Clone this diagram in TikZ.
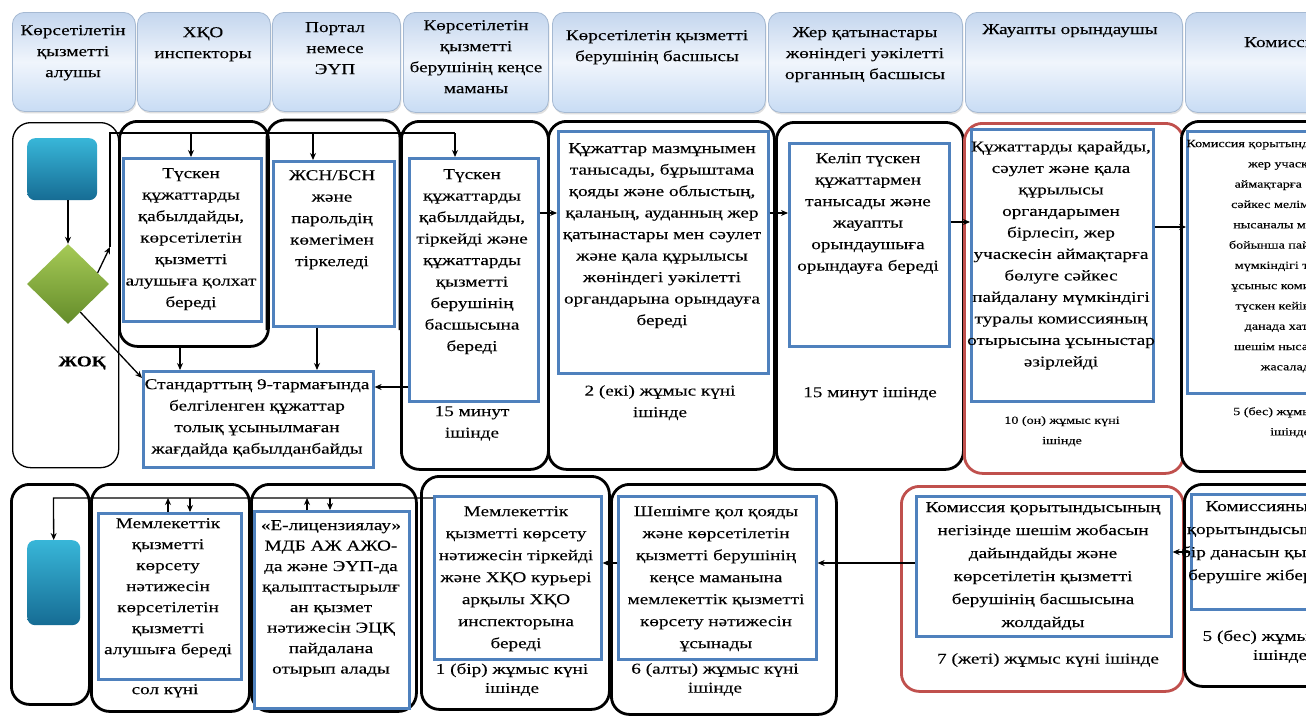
\documentclass[tikz,border=0pt]{standalone}
\usepackage{fontspec}
\setmainfont{Liberation Serif}[FakeStretch=1.28,FakeBold=0.08]
\usetikzlibrary{arrows.meta,shapes.geometric,calc,shadows}

\definecolor{boxblue}{RGB}{79,129,189}
\definecolor{lanered}{RGB}{192,80,77}
\definecolor{headtop}{RGB}{196,214,238}
\definecolor{headmid}{RGB}{240,245,252}
\definecolor{headbot}{RGB}{200,220,244}
\definecolor{headedge}{RGB}{165,185,210}
\definecolor{tealtop}{RGB}{56,182,216}
\definecolor{tealbot}{RGB}{22,108,148}
\definecolor{greentop}{RGB}{166,202,86}
\definecolor{greenbot}{RGB}{100,140,42}

\newcommand\txtbody{\fontsize{15}{21.5}\selectfont}
\newcommand\txthead{\fontsize{15}{21}\selectfont}
\newcommand\txtsmall{\fontsize{11}{20.3}\selectfont}

\begin{document}
\begin{tikzpicture}[x=1pt,y=-1pt,
  lane/.style={draw=black, line width=2.8pt, rounded corners=18pt, fill=white,
    anchor=north west, inner sep=0pt},
  thinlane/.style={lane, line width=1.3pt},
  redlane/.style={lane, draw=lanered},
  bluebox/.style={draw=boxblue, line width=2.6pt, fill=white, anchor=north west, inner sep=0pt},
  header/.style={draw=headedge, line width=0.8pt, rounded corners=12pt,
    top color=headtop, bottom color=headbot, middle color=headmid,
    anchor=north west, inner sep=0pt,
    drop shadow={shadow xshift=1pt, shadow yshift=-2pt, opacity=0.25}},
  terminal/.style={rounded corners=8pt, top color=tealtop, bottom color=tealbot,
    anchor=north west, inner sep=0pt},
  decision/.style={diamond, top color=greentop, bottom color=greenbot, inner sep=0pt,
    minimum width=82, minimum height=80, aspect=1.04},
  txt/.style={align=center, anchor=north, inner sep=0pt, font=\txtbody},
  htxt/.style={txt, font=\txthead},
  stxt/.style={txt, font=\txtsmall},
  flow/.style={line width=1.3pt, -{Stealth[length=7pt,width=6pt]}},
  link/.style={line width=1.3pt},
]
\useasboundingbox (0,0) rectangle (1306,715);
\clip (0,0) rectangle (1306,715);
\fill[white] (0,0) rectangle (1306,715);

% ---------- column headers ----------
\node[header, minimum width=123, minimum height=99]  (h1) at (12,12)   {};
\node[header, minimum width=133, minimum height=99]  (h2) at (137,12)  {};
\node[header, minimum width=128, minimum height=99]  (h3) at (272,12)  {};
\node[header, minimum width=145, minimum height=100] (h4) at (403,12)  {};
\node[header, minimum width=213, minimum height=100] (h5) at (552,12)  {};
\node[header, minimum width=194, minimum height=100] (h6) at (768,12)  {};
\node[header, minimum width=217, minimum height=100] (h7) at (965,12)  {};
\node[header, minimum width=160, minimum height=100] (h8) at (1185,12) {};

\node[htxt] (ht1) at (73,25)   {Көрсетілетін\\қызметті\\алушы};
\node[htxt] (ht2) at (203,27)  {ХҚО\\инспекторы};
\node[htxt] (ht3) at (335,22)  {Портал\\немесе\\ЭҮП};
\node[htxt] (ht4) at (476,20)  {Көрсетілетін\\қызметті\\берушінің кеңсе\\маманы};
\node[htxt] (ht5) at (657,30)  {Көрсетілетін қызметті\\берушінің басшысы};
\node[htxt] (ht6) at (865,27)  {Жер қатынастары\\жөніндегі уәкілетті\\органның басшысы};
\node[htxt] (ht7) at (1070,24) {Жауапты орындаушы};
\node[htxt] (ht8) at (1284,37) {Комиссия};

% ---------- first row: lanes ----------
\node[thinlane, minimum width=106, minimum height=345] (la1) at (12,122)  {};
\node[lane, minimum width=149, minimum height=225]     (lx1) at (118,120) {};
\draw[line width=2.8pt, rounded corners=18pt] (267,330) -- (267,120) -- (400,120) -- (400,330);
\node[lane, minimum width=147, minimum height=348]     (lk1) at (400,120) {};
\node[lane, minimum width=226, minimum height=348]     (lb1) at (547,120) {};
\node[lane, minimum width=187, minimum height=347]     (lj1) at (775,121) {};
\node[redlane, minimum width=219, minimum height=350]  (lr1) at (963,122) {};
\node[lane, minimum width=160, minimum height=350]     (lc1) at (1180,120) {};

% ---------- first row: boxes ----------
\node[bluebox, minimum width=138, minimum height=163] (xb1) at (122,157) {};
\node[bluebox, minimum width=121, minimum height=165] (pb1) at (272,160) {};
\node[bluebox, minimum width=230, minimum height=96]  (sb1) at (142,370) {};
\node[bluebox, minimum width=129, minimum height=243] (kb1) at (408,157) {};
\node[bluebox, minimum width=210, minimum height=242] (bb1) at (557,130) {};
\node[bluebox, minimum width=160, minimum height=203] (jb1) at (788,142) {};
\node[bluebox, minimum width=182, minimum height=272] (rb1) at (970,128) {};
\node[bluebox, minimum width=160, minimum height=262] (cb1) at (1186,130) {};

\node[terminal, minimum width=70, minimum height=62] (start) at (27,138) {};
\node[decision] (dia) at (68,284) {};
\node[font=\txtbody\bfseries, inner sep=0pt] (no) at (82,363) {ЖОҚ};

\node[txt] (xt1) at (191,168) {Түскен\\құжаттарды\\қабылдайды,\\көрсетілетін\\қызметті\\алушыға қолхат\\береді};
\node[txt] (pt1) at (332,170) {ЖСН/БСН\\және\\парольдің\\көмегімен\\тіркеледі};
\node[txt] (st1) at (257,379) {Стандарттың 9-тармағында\\белгіленген құжаттар\\толық ұсынылмаған\\жағдайда қабылданбайды};
\node[txt] (kt1) at (472,169) {Түскен\\құжаттарды\\қабылдайды,\\тіркейді және\\құжаттарды\\қызметті\\берушінің\\басшысына\\береді};
\node[txt] (kd1) at (472,406) {15 минут\\ішінде};
\node[txt] (bt1) at (662,143) {Құжаттар мазмұнымен\\танысады, бұрыштама\\қояды және облыстың,\\қаланың, ауданның жер\\қатынастары мен сәулет\\және қала құрылысы\\жөніндегі уәкілетті\\органдарына орындауға\\береді};
\node[txt] (bd1) at (660,385) {2 (екі) жұмыс күні\\ішінде};
\node[txt] (jt1) at (868,153) {Келіп түскен\\құжаттармен\\танысады және\\жауапты\\орындаушыға\\орындауға береді};
\node[txt] (jd1) at (870,387) {15 минут ішінде};
\node[txt] (rt1) at (1061,141) {Құжаттарды қарайды,\\сәулет және қала\\құрылысы\\органдарымен\\бірлесіп, жер\\учаскесін аймақтарға\\бөлуге сәйкес\\пайдалану мүмкіндігі\\туралы комиссияның\\отырысына ұсыныстар\\әзірлейді};
\node[stxt] (rd1) at (1062,416) {10 (он) жұмыс күні\\ішінде};
\node[stxt] (ct1) at (1290,139) {Комиссия қорытындысы бойынша\\жер учаскесін\\аймақтарға бөлуге\\сәйкес мелімделген\\нысаналы мақсаты\\бойынша пайдалану\\мүмкіндігі туралы\\ұсыныс комиссияға\\түскен кейінен екі\\данада хаттама\\шешім нысанында\\жасалады};
\node[stxt] (cd1) at (1290,407) {5 (бес) жұмыс күні\\ішінде};

% ---------- second row: lanes ----------
\node[lane, minimum width=78,  minimum height=220]    (la2) at (10,483)  {};
\node[lane, minimum width=158, minimum height=227]    (lx2) at (90,483)  {};
\node[lane, minimum width=165, minimum height=227]    (lp2) at (250,483) {};
\node[lane, minimum width=188, minimum height=233]    (lm2) at (420,475) {};
\node[lane, minimum width=225, minimum height=230]    (ls2) at (610,483) {};
\node[redlane, minimum width=282, minimum height=205] (lr2) at (900,485) {};
\node[lane, minimum width=160, minimum height=202]    (lc2) at (1183,483) {};

% ---------- second row: boxes ----------
\node[bluebox, minimum width=143, minimum height=166] (xb2) at (97,512)  {};
\node[bluebox, minimum width=155, minimum height=197] (pb2) at (253,510) {};
\node[bluebox, minimum width=167, minimum height=163] (mb2) at (433,495) {};
\node[bluebox, minimum width=198, minimum height=163] (sb2) at (617,495) {};
\node[bluebox, minimum width=255, minimum height=140] (rb2) at (915,495) {};
\node[bluebox, minimum width=150, minimum height=115] (cb2) at (1190,493) {};
\node[terminal, minimum width=53, minimum height=85] (finish) at (27,540) {};

\node[txt, font=\fontsize{15}{21}\selectfont] (xt2) at (168,518) {Мемлекеттік\\қызметті\\көрсету\\нәтижесін\\көрсетілетін\\қызметті\\алушыға береді};
\node[txt] (xd2) at (165,684) {сол күні};
\node[txt, font=\fontsize{15}{20.5}\selectfont] (pt2) at (331,520) {«Е-лицензиялау»\\МДБ АЖ АЖО-\\да және ЭҮП-да\\қалыптастырылғ\\ан қызмет\\нәтижесін ЭЦҚ\\пайдалана\\отырып алады};
\node[txt, font=\fontsize{15}{22}\selectfont] (mt2) at (516,506) {Мемлекеттік\\қызметті көрсету\\нәтижесін тіркейді\\және ХҚО курьері\\арқылы ХҚО\\инспекторына\\береді};
\node[txt, font=\fontsize{15}{19}\selectfont] (md2) at (512,663) {1 (бір) жұмыс күні\\ішінде};
\node[txt, font=\fontsize{15}{22}\selectfont] (st2) at (716,506) {Шешімге қол қояды\\және көрсетілетін\\қызметті берушінің\\кеңсе маманына\\мемлекеттік қызметті\\көрсету нәтижесін\\ұсынады};
\node[txt, font=\fontsize{15}{19}\selectfont] (sd2) at (715,663) {6 (алты) жұмыс күні\\ішінде};
\node[txt, font=\fontsize{15}{23}\selectfont] (rt2) at (1043,502) {Комиссия қорытындысының\\негізінде шешім жобасын\\дайындайды және\\көрсетілетін қызметті\\берушінің басшысына\\жолдайды};
\node[txt] (rd2) at (1048,653) {7 (жеті) жұмыс күні ішінде};
\node[txt, font=\fontsize{15}{23}\selectfont] (ct2) at (1262,501) {Комиссияның\\қорытындысының\\бір данасын қызмет\\берушіге жібереді};
\node[txt, font=\fontsize{15}{19}\selectfont] (cd2) at (1280,630) {5 (бес) жұмыс күні\\ішінде};

% ---------- first row: connectors ----------
\coordinate (up1) at (110,247);
\coordinate (up2) at (110,133);
\coordinate (bus1) at (191,133);
\coordinate (bus2) at (313,133);
\coordinate (bus3) at (455,133);
\coordinate (dn1) at (180,0);
\coordinate (dn2) at (317,0);
\coordinate (y213) at (0,213);
\coordinate (y222) at (0,222);
\coordinate (y227) at (0,227);
\coordinate (y378) at (0,378);
\coordinate (y387) at (0,387);

\draw[flow] (start.south -| dia) -- (dia.north);
\draw[flow] ($(dia.north)!0.72!(dia.east)$) -- (up1);
\draw[link] (up1) -- (up2) -- (bus3);
\draw[flow] (bus1) -- (bus1 |- xb1.north);
\draw[flow] (bus2) -- (bus2 |- pb1.north);
\draw[flow] (bus3) -- (bus3 |- kb1.north);
\draw[flow] ($(dia.south)!0.3!(dia.east)$) -- (sb1.west |- y378);
\draw[flow] (lx1.south -| dn1) -- (sb1.north -| dn1);
\draw[flow] (pb1.south -| dn2) -- (sb1.north -| dn2);
\draw[flow] (kb1.west |- y387) -- (sb1.east |- y387);
\draw[flow] (kb1.east |- y213) -- (bb1.west |- y213);
\draw[flow] (bb1.east |- y213) -- (jb1.west |- y213);
\draw[flow] (jb1.east |- y222) -- (rb1.west |- y222);
\draw[flow] (rb1.east |- y227) -- (cb1.west |- y227);

% ---------- second row: connectors ----------
\coordinate (rb0) at (53.5,498);
\coordinate (rbx1) at (168,498);
\coordinate (rbx2) at (190,498);
\coordinate (rbp1) at (307,498);
\coordinate (rbp2) at (330,498);
\coordinate (y552) at (0,552);
\coordinate (y563) at (0,563);

\draw[flow] (mb2.west |- rb0) -- (rb0) -- (finish.north);
\draw[flow] (rbx1 |- xb2.north) -- (rbx1);
\draw[flow] (rbx2) -- (rbx2 |- xb2.north);
\draw[flow] (rbp1 |- pb2.north) -- (rbp1);
\draw[flow] (rbp2) -- (rbp2 |- pb2.north);
\draw[flow] (cb2.west |- y552) -- (rb2.east |- y552);
\draw[flow] (rb2.west |- y563) -- (sb2.east |- y563);
\draw[flow] (sb2.west |- y563) -- (mb2.east |- y563);
\end{tikzpicture}
\end{document}
